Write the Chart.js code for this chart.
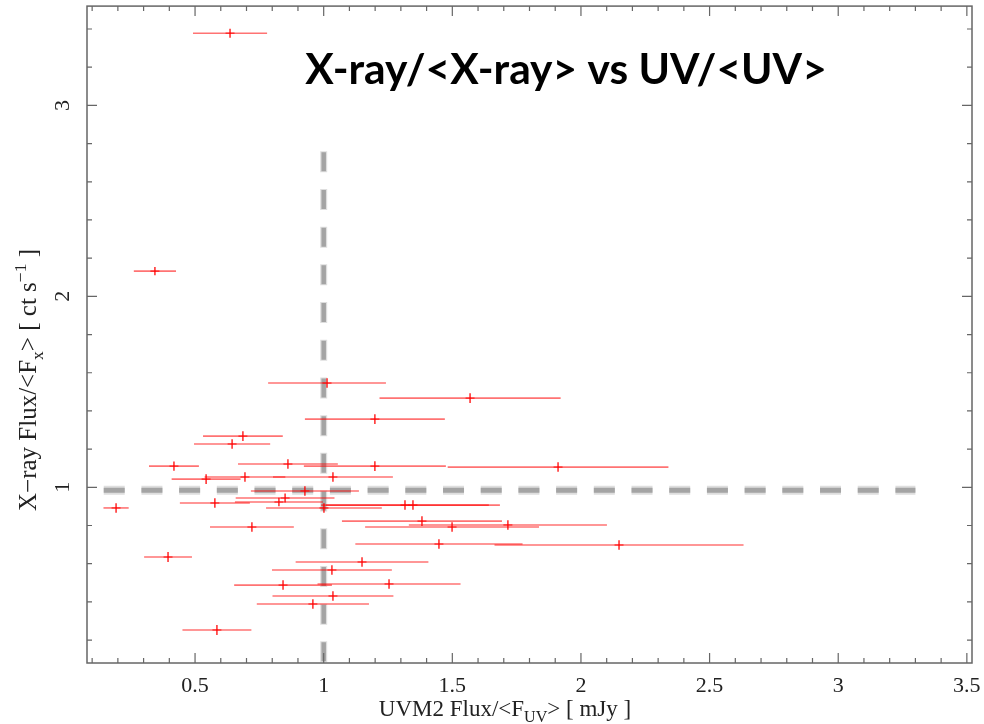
<!DOCTYPE html>
<html><head><meta charset="utf-8">
<script src="https://cdn.jsdelivr.net/npm/chart.js@4.4.1/dist/chart.umd.min.js"></script>
<style>html,body{margin:0;padding:0;background:#fff}canvas{display:block}</style>
</head><body>
<canvas id="c" width="984" height="724"></canvas>
<script>
// ---- data ----
const UV_FLUX   = [0.636,0.344,1.013,1.569,1.199,0.686,0.644,0.418,0.861,1.199,1.911,0.543,0.694,1.036,0.927,0.850,0.577,0.826,1.001,1.316,1.347,1.382,1.716,1.499,1.448,2.148,0.193,0.721,0.395,1.149,1.032,0.842,1.254,1.036,0.958,0.585];
const UV_ERR    = [0.144,0.082,0.229,0.352,0.272,0.155,0.148,0.097,0.194,0.276,0.429,0.134,0.157,0.233,0.210,0.192,0.136,0.171,0.225,0.326,0.338,0.311,0.385,0.338,0.325,0.484,0.049,0.163,0.093,0.258,0.233,0.190,0.278,0.235,0.218,0.134];
const XRAY_FLUX = [3.378,2.132,1.546,1.467,1.357,1.268,1.227,1.111,1.122,1.111,1.106,1.043,1.054,1.054,0.981,0.944,0.918,0.923,0.892,0.907,0.907,0.823,0.803,0.792,0.703,0.698,0.892,0.792,0.635,0.609,0.567,0.488,0.494,0.431,0.389,0.253];
const XRAY_ERR  = [0.024,0.022,0.025,0.025,0.025,0.025,0.025,0.024,0.025,0.025,0.025,0.025,0.025,0.025,0.025,0.024,0.025,0.022,0.025,0.025,0.025,0.025,0.025,0.025,0.025,0.025,0.025,0.025,0.026,0.025,0.025,0.025,0.025,0.025,0.025,0.026];
const X_TICKS = [0.5,1,1.5,2,2.5,3,3.5];
const Y_TICKS = [1,2,3];
const X_RANGE = [0.08,3.52];
const Y_RANGE = [0.08,3.52];
const X_MINOR = 0.1, Y_MINOR = 0.2;
const REF_X = 1.0, REF_X_SPAN = [2.76,0.08];   // vertical dashed line (x = 1)
const REF_Y = 0.985, REF_Y_SPAN = [0.145,3.3]; // horizontal dashed line (y ~ 1)
const TITLE = 'X-ray/<X-ray> vs UV/<UV>';
const X_TITLE = [{t:'UVM2 Flux/<F'},{t:'UV',m:'sub'},{t:'> [ mJy ]'}];
const Y_TITLE = [{t:'X\u2212ray Flux/<F'},{t:'x',m:'sub'},{t:'> [ ct s'},{t:'\u22121',m:'sup'},{t:' ]'}];

// ---- datasets ----
const datasets = [];
const DASH = [21,16.7];
datasets.push({data:[{x:REF_X,y:REF_X_SPAN[0]},{x:REF_X,y:REF_X_SPAN[1]}],showLine:true,borderColor:'#dedede',borderWidth:7,borderDash:DASH,pointRadius:0,order:20});
datasets.push({data:[{x:REF_X,y:REF_X_SPAN[0]},{x:REF_X,y:REF_X_SPAN[1]}],showLine:true,borderColor:'#a4a4a4',borderWidth:4.5,borderDash:[19,18.7],borderDashOffset:-1,pointRadius:0,order:19});
datasets.push({data:[{x:REF_Y_SPAN[0],y:REF_Y},{x:REF_Y_SPAN[1],y:REF_Y}],showLine:true,borderColor:'#dedede',borderWidth:9,borderDash:DASH,pointRadius:0,order:20});
datasets.push({data:[{x:REF_Y_SPAN[0],y:REF_Y},{x:REF_Y_SPAN[1],y:REF_Y}],showLine:true,borderColor:'#a4a4a4',borderWidth:5,borderDash:DASH,pointRadius:0,order:19});
UV_FLUX.forEach((xv,i)=>{
  const yv = XRAY_FLUX[i];
  datasets.push({data:[{x:xv-UV_ERR[i],y:yv},{x:xv+UV_ERR[i],y:yv}],showLine:true,borderColor:'rgba(255,0,0,0.55)',borderWidth:1.6,pointRadius:0,order:5});
  datasets.push({data:[{x:xv,y:yv-XRAY_ERR[i]},{x:xv,y:yv+XRAY_ERR[i]}],showLine:true,borderColor:'rgba(255,0,0,0.85)',borderWidth:1.5,pointRadius:0,order:4});
});
datasets.push({data:UV_FLUX.map((xv,i)=>({x:xv,y:XRAY_FLUX[i]})),showLine:false,pointStyle:'line',pointRadius:4.5,borderColor:'rgba(255,0,0,0.6)',borderWidth:1.6,order:1});

// ---- helpers ----
function richWidth(ctx, segs, size, fam){
  let w=0; segs.forEach(s=>{ctx.font=((s.m?size*0.7:size))+'px '+fam; w+=ctx.measureText(s.t).width;}); return w;
}
function drawRich(ctx, segs, cx, base, size, fam){
  let x = cx - richWidth(ctx,segs,size,fam)/2;
  ctx.textAlign='left'; ctx.textBaseline='alphabetic';
  segs.forEach(s=>{
    const sz = s.m?size*0.7:size;
    ctx.font = sz+'px '+fam;
    const dy = s.m==='sub'? size*0.28 : s.m==='sup'? -size*0.42 : 0;
    ctx.fillText(s.t,x,base+dy);
    x += ctx.measureText(s.t).width;
  });
}

const decor = {
  id:'decor',
  afterDraw(chart){
    const {ctx, chartArea:a, scales:{x,y}} = chart;
    ctx.save();
    // frame
    ctx.strokeStyle='#666'; ctx.lineWidth=1.5;
    ctx.strokeRect(a.left,a.top,a.right-a.left,a.bottom-a.top);
    // inward ticks
    ctx.lineWidth=1.2; ctx.strokeStyle='#666';
    ctx.beginPath();
    for(let k=Math.ceil(X_RANGE[0]/X_MINOR-1e-6);k*X_MINOR<=X_RANGE[1]+1e-9;k++){
      const v=k*X_MINOR; const px=x.getPixelForValue(v);
      const major = Math.abs(v/0.5-Math.round(v/0.5))<1e-6; const L = major?10:5;
      ctx.moveTo(px,a.bottom); ctx.lineTo(px,a.bottom-L);
      ctx.moveTo(px,a.top); ctx.lineTo(px,a.top+L);
    }
    for(let k=Math.ceil(Y_RANGE[0]/Y_MINOR-1e-6);k*Y_MINOR<=Y_RANGE[1]+1e-9;k++){
      const v=k*Y_MINOR; const py=y.getPixelForValue(v);
      const major = Math.abs(v-Math.round(v))<1e-6; const L = major?10:5;
      ctx.moveTo(a.left,py); ctx.lineTo(a.left+L,py);
      ctx.moveTo(a.right,py); ctx.lineTo(a.right-L,py);
    }
    ctx.stroke();
    // chart title
    ctx.fillStyle='#000';
    ctx.font='bold 42.5px Lato';
    ctx.textAlign='center'; ctx.textBaseline='alphabetic';
    ctx.fillText(TITLE,566,84);
    // axis titles
    ctx.fillStyle='#222';
    drawRich(ctx,X_TITLE,505,716,23,'"Liberation Serif"');
    ctx.translate(27,380); ctx.rotate(-Math.PI/2);
    drawRich(ctx,Y_TITLE,0,9,25,'"Liberation Serif"');
    ctx.restore();
  }
};

new Chart(document.getElementById('c'),{
  type:'scatter',
  data:{datasets},
  options:{
    responsive:false, animation:false, events:[],
    layout:{padding:{top:6,right:12,left:0,bottom:0}},
    plugins:{legend:{display:false},tooltip:{enabled:false},title:{display:false}},
    scales:{
      x:{type:'linear',min:X_RANGE[0],max:X_RANGE[1],
         grid:{display:false},border:{display:false},
         afterBuildTicks:s=>{s.ticks=X_TICKS.map(v=>({value:v}));},
         afterFit:s=>{s.height=61;s.paddingLeft=0;s.paddingRight=0;},
         ticks:{color:'#222',font:{family:'"Liberation Serif"',size:22},padding:2,maxRotation:0,minRotation:0,callback:v=>String(v)}},
      y:{type:'linear',min:Y_RANGE[0],max:Y_RANGE[1],
         grid:{display:false},border:{display:false},
         afterBuildTicks:s=>{s.ticks=Y_TICKS.map(v=>({value:v}));},
         afterFit:s=>{s.width=87;s.paddingTop=0;s.paddingBottom=0;},
         ticks:{color:'#222',font:{family:'"Liberation Serif"',size:22},padding:10,minRotation:90,maxRotation:90,crossAlign:'center',callback:v=>String(v)}}
    }
  },
  plugins:[decor]
});
</script>
</body></html>
